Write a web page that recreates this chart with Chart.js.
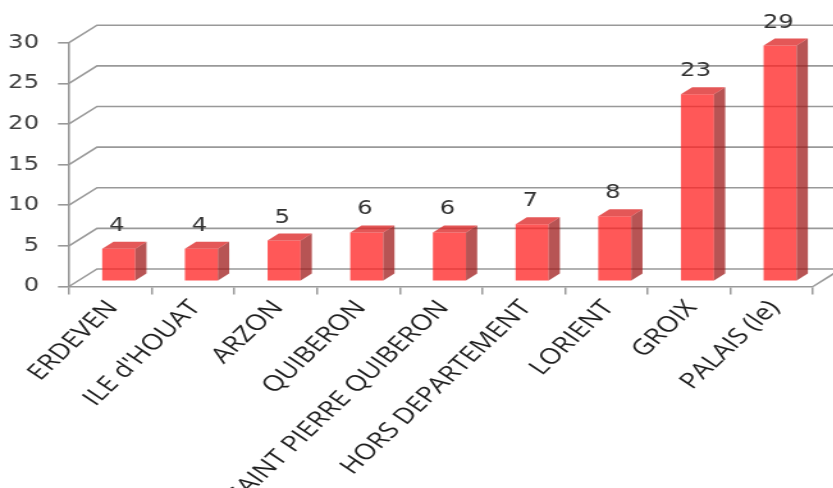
<!DOCTYPE html>
<html><head><meta charset="utf-8">
<script src="https://cdn.jsdelivr.net/npm/chart.js@4"></script>
<style>
html,body{margin:0;padding:0;background:#fff;overflow:hidden;}
#wrap{width:651px;height:488px;transform:scaleX(1.28);transform-origin:0 0;}
</style></head><body>
<div id="wrap"><canvas id="c" width="651" height="488"></canvas></div>
<script>
const categories = ["ERDEVEN", "ILE d'HOUAT", "ARZON", "QUIBERON", "SAINT PIERRE QUIBERON", "HORS DEPARTEMENT", "LORIENT", "GROIX", "PALAIS (le)"];
const values = [4, 4, 5, 6, 6, 7, 8, 23, 29];
const yTicks = [0, 5, 10, 15, 20, 25, 30];

const GRID = '#999999';
const FRONT = 'rgba(255,35,35,0.76)';
const SIDE = 'rgba(160,30,30,0.76)';
const TOP = 'rgba(220,40,40,0.78)';
const DX = 21.9, DY = -17.5;   // depth of the 3D box
const F0 = 0.3, F1 = 0.7;      // bar front/back position in depth

const threeD = {
  id: 'threeD',
  beforeDatasetsDraw(chart) {
    const {ctx, chartArea: {left, right, bottom}, scales: {y}} = chart;
    ctx.save();
    ctx.strokeStyle = GRID; ctx.lineWidth = 1.6;
    yTicks.forEach(v => {
      const py = y.getPixelForValue(v);
      ctx.beginPath();
      ctx.moveTo(left, py);
      ctx.lineTo(left + DX, py + DY);
      ctx.lineTo(chart.width + 20, py + DY);
      ctx.stroke();
    });
    ctx.beginPath();
    ctx.moveTo(right, bottom);
    ctx.lineTo(right + DX, bottom + DY);
    ctx.stroke();
    ctx.restore();
    ctx.save();
    ctx.translate(DX * F0, DY * F0);
  },
  afterDatasetsDraw(chart) {
    const ctx = chart.ctx;
    const meta = chart.getDatasetMeta(0);
    const bx = DX * (F1 - F0), by = DY * (F1 - F0);
    meta.data.forEach((bar, i) => {
      const {x, y, base, width} = bar.getProps(['x', 'y', 'base', 'width'], true);
      const l = x - width / 2, r = x + width / 2;
      ctx.fillStyle = SIDE;
      ctx.beginPath();
      ctx.moveTo(r, y); ctx.lineTo(r + bx, y + by); ctx.lineTo(r + bx, base + by); ctx.lineTo(r, base);
      ctx.closePath(); ctx.fill();
      ctx.fillStyle = TOP;
      ctx.beginPath();
      ctx.moveTo(l, y); ctx.lineTo(l + bx, y + by); ctx.lineTo(r + bx, y + by); ctx.lineTo(r, y);
      ctx.closePath(); ctx.fill();
      ctx.fillStyle = '#333';
      ctx.font = '19px "DejaVu Sans"';
      ctx.textAlign = 'center'; ctx.textBaseline = 'middle';
      ctx.fillText(String(values[i]), x - 1.5, y - 23);
    });
    ctx.restore();
  }
};

new Chart(document.getElementById('c'), {
  type: 'bar',
  data: {
    labels: categories,
    datasets: [{data: values, backgroundColor: FRONT, borderWidth: 0, barPercentage: 0.5, categoryPercentage: 0.8}]
  },
  options: {
    responsive: false, animation: false, devicePixelRatio: 1,
    layout: {padding: {top: 42.7, right: 15.8, left: 0, bottom: 0}},
    plugins: {legend: {display: false}, tooltip: {enabled: false}},
    scales: {
      x: {
        grid: {display: true, drawOnChartArea: false, drawTicks: true, tickLength: 8, color: GRID, lineWidth: 1.5},
        border: {display: true, color: GRID, width: 1.6},
        ticks: {autoSkip: false, minRotation: 50, maxRotation: 50, labelOffset: 2, padding: 1, color: '#1e1e1e',
                font: {family: '"Open Sans"', size: 22}},
        afterFit(s) { s.height = 201.5; s.paddingLeft = 0; s.paddingRight = 0; }
      },
      y: {
        min: 0, max: 30,
        afterBuildTicks(s) { s.ticks = yTicks.map(v => ({value: v})); },
        grid: {display: true, drawOnChartArea: false, drawTicks: true, tickLength: 8.6, color: GRID, lineWidth: 1.6},
        border: {display: true, color: GRID, width: 1.6},
        ticks: {padding: 14.8, color: '#404040', font: {family: '"DejaVu Sans"', size: 19}},
        afterFit(s) { s.width = 53.9; s.paddingTop = 0; s.paddingBottom = 0; }
      }
    }
  },
  plugins: [threeD]
});
</script>
</body></html>
